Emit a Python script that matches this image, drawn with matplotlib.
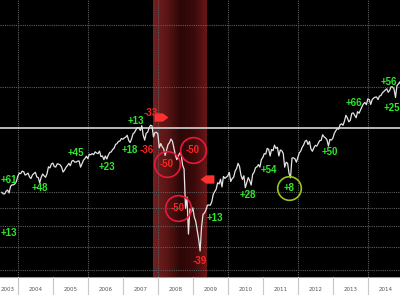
import numpy as np
import matplotlib
matplotlib.use('Agg')
import matplotlib.pyplot as plt
from matplotlib.colors import LinearSegmentedColormap
from matplotlib.path import Path

# S&P 500, two readings per month (mid, end), Jul 2003 - Nov 2014
first_year = 2003
first_month = 7
spx = [
    1000, 990, 990, 1008, 1015, 996, 1040, 1051, 1050, 1058, 1075, 1112,  # 2003 H2
    1135, 1131, 1150, 1145, 1120, 1126, 1135, 1107, 1095, 1121, 1132, 1141,
    1106, 1102, 1064, 1104, 1128, 1115, 1104, 1130, 1183, 1174, 1205, 1212,  # 2004
    1184, 1181, 1206, 1204, 1198, 1181, 1143, 1157, 1178, 1192, 1210, 1191,
    1227, 1234, 1220, 1220, 1228, 1229, 1180, 1207, 1235, 1249, 1268, 1248,  # 2005
    1285, 1280, 1290, 1281, 1305, 1295, 1290, 1311, 1265, 1270, 1240, 1270,
    1245, 1277, 1300, 1304, 1325, 1336, 1370, 1378, 1398, 1401, 1425, 1418,  # 2006
    1430, 1438, 1455, 1407, 1387, 1421, 1470, 1482, 1510, 1531, 1530, 1503,
    1550, 1455, 1410, 1474, 1485, 1527, 1555, 1549, 1440, 1481, 1485, 1468,  # 2007
    1340, 1378, 1350, 1331, 1275, 1323, 1370, 1386, 1420, 1400, 1340, 1280,
    1240, 1267, 1295, 1283, 1195, 1165, 900, 969, 760, 896, 880, 903,  # 2008
    850, 826, 780, 735, 680, 798, 865, 873, 890, 919, 920, 919,
    940, 987, 1005, 1021, 1065, 1057, 1090, 1036, 1110, 1096, 1105, 1115,  # 2009
    1140, 1074, 1095, 1104, 1150, 1169, 1210, 1187, 1120, 1089, 1115, 1031,
    1065, 1102, 1080, 1049, 1125, 1141, 1175, 1183, 1200, 1181, 1240, 1258,  # 2010
    1290, 1286, 1335, 1327, 1270, 1326, 1315, 1364, 1335, 1345, 1270, 1321,
    1315, 1292, 1180, 1219, 1210, 1131, 1100, 1253, 1255, 1247, 1220, 1258,  # 2011
    1295, 1312, 1345, 1366, 1400, 1408, 1370, 1398, 1330, 1310, 1340, 1362,
    1355, 1379, 1405, 1407, 1460, 1441, 1430, 1412, 1355, 1416, 1410, 1426,  # 2012
    1472, 1498, 1520, 1515, 1560, 1569, 1555, 1598, 1660, 1631, 1590, 1606,
    1680, 1686, 1660, 1633, 1700, 1682, 1720, 1757, 1790, 1806, 1780, 1848,  # 2013
    1840, 1783, 1840, 1859, 1870, 1872, 1840, 1884, 1890, 1924, 1940, 1960,
    1975, 1931, 1955, 2003, 2000, 1972, 1865, 2018, 2040, 2068, 2000,  # 2014
]

# labels on the chart: (text, date, level, colour, alignment)
green = '#2fe82f'
red = '#ff2222'
notes = [
    ('+61', 2003.50, 1085, green, 'left'), ('+13', 2003.50, 765, green, 'left'),
    ('+48', 2004.63, 1029, green, 'center'), ('+45', 2005.67, 1296, green, 'center'),
    ('+23', 2006.56, 1181, green, 'center'), ('+18', 2007.20, 1322, green, 'center'),
    ('-36', 2007.69, 1322, red, 'center'), ('+13', 2007.37, 1599, green, 'center'),
    ('-33', 2007.80, 1686, red, 'center'), ('-50', 2008.26, 1205, red, 'center'),
    ('-50', 2009.00, 1322, red, 'center'), ('-50', 2008.57, 902, red, 'center'),
    ('+13', 2009.63, 845, green, 'center'), ('-39', 2009.20, 637, red, 'center'),
    ('+28', 2010.56, 983, green, 'center'), ('+54', 2011.16, 1159, green, 'center'),
    ('+8', 2011.74, 1029, green, 'center'), ('+50', 2012.91, 1304, green, 'center'),
    ('+66', 2013.61, 1800, green, 'center'), ('+56', 2014.60, 2067, green, 'center'),
    ('+25', 2014.91, 1742, green, 'right'),
]
red_circles = [(2008.26, 1205), (2009.00, 1322), (2008.57, 902)]
green_circles = [(2011.74, 1029)]
flags_right = [(2008.10, 1642)]
flags_left = [(2009.41, 1092)]

recession = (2007.87, 2009.42)
old_high = 1527
grid_levels = [600, 700, 800, 900, 1000, 2000, 3000]
years = list(range(2003, 2015))

n = len(spx)
dates = first_year + (first_month - 1) / 12 + (np.arange(n) + 1) / 24

x0, x1 = 2003.49, 2014.92
y0, y1 = 573, 3543

fig = plt.figure(figsize=(4, 2.95), dpi=100)
fig.patch.set_facecolor('white')
ax = fig.add_axes([0, 18 / 295, 1, 277 / 295])
ax.set_facecolor('black')
ax.set_yscale('log')
ax.set_xlim(x0, x1)
ax.set_ylim(y0, y1)
for s in ax.spines.values():
    s.set_visible(False)
ax.set_xticks([])
ax.set_yticks([])
ax.minorticks_off()

# recession band with a dark middle
cmap = LinearSegmentedColormap.from_list('rec', ['#702020', '#5a1515', '#2c0707', '#3a0a0a', '#6a1818'])
ax.imshow(np.linspace(0, 1, 100).reshape(1, -1), cmap=cmap, aspect='auto',
          extent=[recession[0], recession[1], y0, y1], zorder=1)

for lv in grid_levels:
    ax.axhline(lv, color='#5e5e5e', lw=0.8, ls=(0, (1, 1)), zorder=2)
for yr in range(2004, 2015, 2):
    ax.axvline(yr, color='#5e5e5e', lw=0.8, ls=(0, (1, 1)), zorder=2)
ax.axhline(old_high, color='#c8c8c8', lw=1.3, zorder=2)

ax.plot(dates, spx, color='#e4e4e4', lw=0.9, zorder=3)

for d, v in red_circles:
    ax.plot(d, v, 'o', ms=18.5, mfc='none', mec='#e8183c', mew=1.2, zorder=4)
for d, v in green_circles:
    ax.plot(d, v, 'o', ms=17, mfc='none', mec='#99c41a', mew=1.2, zorder=4)

flag_r = Path([(-1, -0.6), (0.2, -0.6), (1, 0), (0.2, 0.6), (-1, 0.6), (-1, -0.6)])
flag_l = Path([(1, -0.6), (-0.2, -0.6), (-1, 0), (-0.2, 0.6), (1, 0.6), (1, -0.6)])
for d, v in flags_right:
    ax.plot(d, v, marker=flag_r, ms=10, color='#ff3030', mec='none', zorder=4)
for d, v in flags_left:
    ax.plot(d, v, marker=flag_l, ms=10, color='#ff3030', mec='none', zorder=4)

for txt, d, v, c, ha in notes:
    ax.text(d, v, txt, color=c, fontsize=7, fontweight='bold', family='Liberation Sans',
            ha=ha, va='center', zorder=5)

# year strip at the bottom
bx = fig.add_axes([0, 0, 1, 18 / 295])
bx.set_xlim(x0, x1)
bx.set_ylim(0, 1)
bx.set_facecolor('white')
for s in bx.spines.values():
    s.set_visible(False)
bx.set_xticks([])
bx.set_yticks([])
bx.axhline(1, color='#9a9a9a', lw=1.5)
for yr in years[1:]:
    bx.axvline(yr, color='#c8c8c8', lw=0.8)
for yr in years:
    if yr + 0.5 - x0 < 0.25:
        bx.text(x0 + 0.02, 0.3, str(yr), fontsize=4, color='#555555', ha='left', va='center')
    else:
        bx.text(yr + 0.5, 0.3, str(yr), fontsize=4, color='#555555', ha='center', va='center')

fig.savefig('out.png', dpi=100, facecolor='white')
